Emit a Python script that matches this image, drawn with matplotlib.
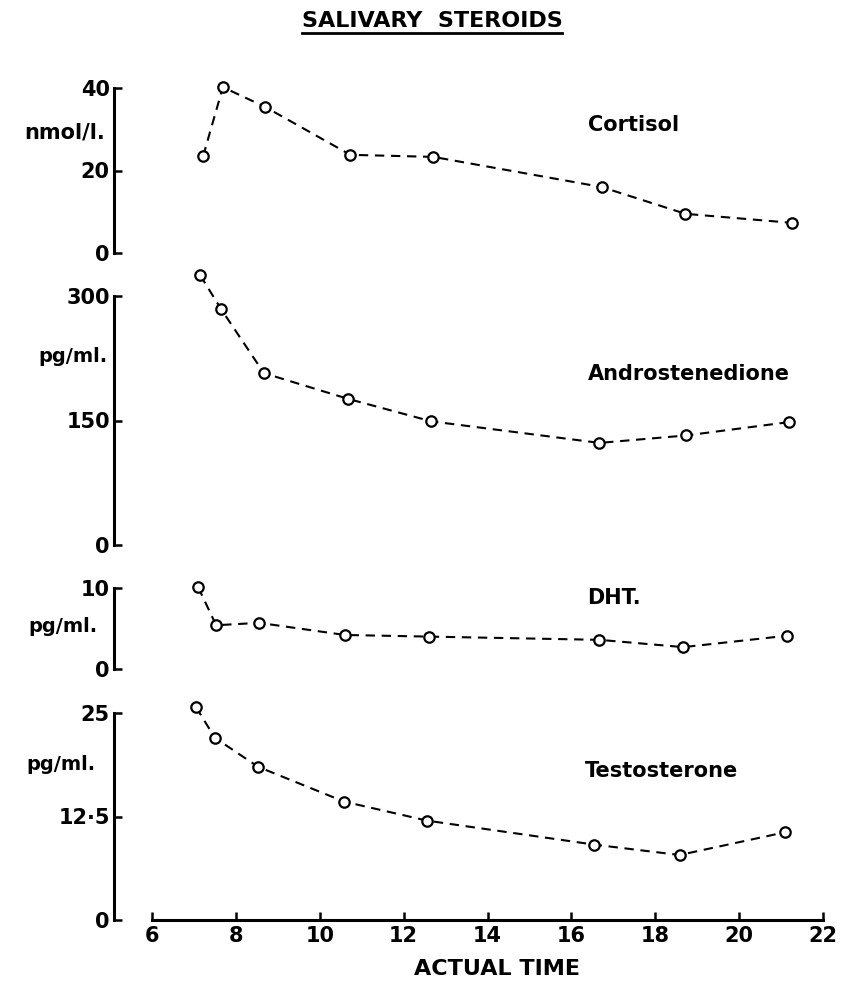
import matplotlib
matplotlib.use("Agg")
import matplotlib.pyplot as plt
from matplotlib.lines import Line2D

plt.rcParams["font.family"] = ["DejaVu Sans"]
plt.rcParams["font.weight"] = "bold"

# sampling times (hours) and salivary levels
cortisol_t = [7.22, 7.69, 8.70, 10.73, 12.71, 16.72, 18.72, 21.27]
cortisol = [23.5, 40.2, 35.4, 23.8, 23.3, 16.0, 9.5, 7.3]
andro_t = [7.15, 7.65, 8.67, 10.68, 12.66, 16.67, 18.74, 21.18]
andro = [325, 284, 207, 176, 149, 123, 132, 148]
dht_t = [7.10, 7.53, 8.55, 10.60, 12.60, 16.67, 18.67, 21.13]
dht = [10.1, 5.4, 5.7, 4.2, 4.0, 3.6, 2.7, 4.1]
testo_t = [7.05, 7.50, 8.53, 10.58, 12.56, 16.55, 18.58, 21.10]
testo = [25.7, 22.0, 18.5, 14.3, 12.0, 9.1, 7.85, 10.6]

names = ["Cortisol", "Androstenedione", "DHT.", "Testosterone"]
units = ["nmol/l.", "pg/ml.", "pg/ml.", "pg/ml."]
yticks = [[0, 20, 40], [0, 150, 300], [0, 10], [0, 12.5, 25]]
yticklabels = [["0", "20", "40"], ["0", "150", "300"], ["0", "10"], ["0", "12·5", "25"]]
xticks = [6, 8, 10, 12, 14, 16, 18, 20, 22]

W, H = 843, 986
fig = plt.figure(figsize=(W / 100, H / 100), dpi=100)


def px_rect(x0, y_top, x1, y_bot):
    return [x0 / W, 1 - y_bot / H, (x1 - x0) / W, (y_bot - y_top) / H]


# panel frames in pixels: (top, bottom), plus label spots
frames = [(88, 253), (296, 545), (588, 669), (713, 920)]
name_pos = [(588, 125), (588, 374), (587, 598), (585, 771)]
unit_pos = [(105, 132), (108, 357), (98, 627), (96, 764)]
unit_size = [15, 14, 14, 14]

X_LEFT, X_RIGHT = 114, 823
xmin = 6 - (152 - X_LEFT) / ((X_RIGHT - 152) / 16)

series = [(cortisol_t, cortisol), (andro_t, andro), (dht_t, dht), (testo_t, testo)]

for i, ((t, v), (top, bot)) in enumerate(zip(series, frames)):
    ax = fig.add_axes(px_rect(X_LEFT, top, X_RIGHT, bot))
    ax.set_xlim(xmin, 22)
    ax.set_ylim(0, yticks[i][-1])
    ax.patch.set_visible(False)
    for s in ["top", "right"]:
        ax.spines[s].set_visible(False)
    ax.spines["left"].set_linewidth(2.2)
    ax.plot(t, v, color="black", lw=1.5, linestyle=(0, (4.5, 3.2)),
            marker="o", ms=7.5, mfc="white", mec="black", mew=1.6,
            clip_on=False, zorder=3)
    ax.set_yticks(yticks[i])
    ax.set_yticklabels(yticklabels[i])
    ax.tick_params(axis="y", direction="in", length=6, width=1.8,
                   pad=3, labelsize=15)
    if i < 3:
        ax.spines["bottom"].set_visible(False)
        ax.set_xticks([])
    else:
        ax.spines["bottom"].set_linewidth(2.2)
        ax.spines["bottom"].set_bounds(6, 22)
        ax.set_xticks(xticks)
        ax.tick_params(axis="x", direction="in", length=6, width=1.8,
                       pad=4, labelsize=15)
    fig.text(name_pos[i][0] / W, 1 - name_pos[i][1] / H, names[i],
             fontsize=15, ha="left", va="center")
    fig.text(unit_pos[i][0] / W, 1 - unit_pos[i][1] / H, units[i],
             fontsize=unit_size[i], ha="right", va="center")

fig.text(497 / W, 1 - 969 / H, "ACTUAL TIME", fontsize=16,
         ha="center", va="center")

title = fig.text(432 / W, 1 - 27 / H, "SALIVARY  STEROIDS", fontsize=16,
                 ha="center", va="baseline")

# underline the heading using its rendered extent
fig.canvas.draw()
bb = title.get_window_extent().transformed(fig.transFigure.inverted())
uy = 1 - 33 / H
fig.add_artist(Line2D([bb.x0, bb.x1], [uy, uy], transform=fig.transFigure,
                      color="black", lw=2))

fig.savefig("out.png", dpi=100, facecolor="white")
